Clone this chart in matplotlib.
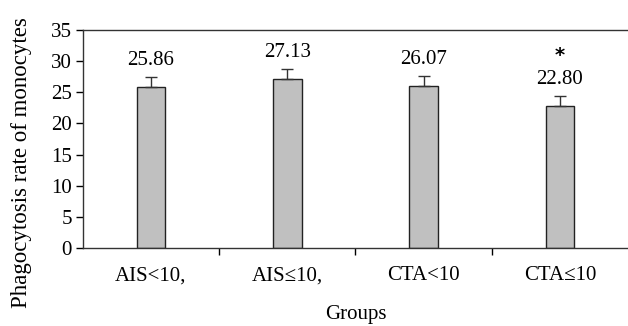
import matplotlib
matplotlib.use("Agg")
from matplotlib import pyplot as plt

# data
groups = ["AIS<10,", "AIS\u226410,", "CTA<10", "CTA\u226410"]
means = [25.86, 27.13, 26.07, 22.80]
errors = [1.6, 1.6, 1.6, 1.6]
labels = ["25.86", "27.13", "26.07", "22.80"]
significant = [False, False, False, True]

plt.rcParams['font.family'] = ['Liberation Serif', 'DejaVu Serif']
plt.rcParams['font.size'] = 15

fig = plt.figure(figsize=(6.28, 3.26), dpi=100)
ax = fig.add_axes([0.132, 0.239, 0.868, 0.669])

x = list(range(len(groups)))
ax.bar(x, means, width=0.21, color="#c0c0c0", edgecolor="#222222", linewidth=1.0, zorder=2)
ax.errorbar(x, means, yerr=[[0] * len(errors), errors], fmt="none",
            ecolor="#333333", elinewidth=1.0, capsize=4, capthick=1.0, zorder=3)

for i in x:
    top = means[i] + errors[i]
    ax.annotate(labels[i], (i, top), xytext=(0, 5), textcoords="offset points",
                ha="center", va="bottom", fontsize=15)
    if significant[i]:
        ax.annotate("*", (i, top), xytext=(0, 22), textcoords="offset points",
                    ha="center", va="bottom", fontsize=14, fontweight="bold",
                    family="DejaVu Sans")

ax.set_xlim(-0.5, 3.5)
ax.set_ylim(0, 35)
ax.set_yticks(range(0, 36, 5))
ax.set_xticks(x)
ax.set_xticklabels(groups)
ax.set_xticks([0.5, 1.5, 2.5], minor=True)
ax.tick_params(axis="x", which="major", length=0, pad=13)
ax.tick_params(axis="x", which="minor", length=5, direction="out", width=1)
ax.tick_params(axis="y", length=5, direction="out", width=1, pad=3)

ax.spines["right"].set_visible(False)
for s in ["left", "top", "bottom"]:
    ax.spines[s].set_linewidth(1.0)
    ax.spines[s].set_color("#333333")

ax.set_ylabel("Phagocytosis rate of monocytes", fontsize=16.5)
ax.yaxis.set_label_coords(-0.094, 0.39)
ax.set_xlabel("Groups", fontsize=15, labelpad=14)

fig.savefig("out.png", dpi=100)
